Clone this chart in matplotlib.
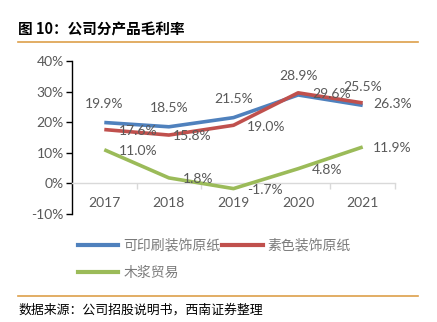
import matplotlib
matplotlib.use("Agg")
import matplotlib.pyplot as plt
from matplotlib.lines import Line2D
from matplotlib.ticker import FixedLocator, FuncFormatter

plt.rcParams['font.family'] = ['Lato', 'Noto Sans CJK SC', 'DejaVu Sans']

years = ["2017", "2018", "2019", "2020", "2021"]
series_names = ["可印刷装饰原纸", "素色装饰原纸", "木浆贸易"]
printable = [19.9, 18.5, 21.5, 28.9, 25.5]
plain = [17.6, 15.8, 19.0, 29.6, 26.3]
pulp = [11.0, 1.8, -1.7, 4.8, 11.9]
yticks = [-10, 0, 10, 20, 30, 40]

title = "图 10：公司分产品毛利率"
source = "数据来源：公司招股说明书，西南证券整理"

colors = ["#4F81BD", "#C0504D", "#9BBB59"]
gray = "#595959"

W, H = 437, 322
fig = plt.figure(figsize=(W / 100, H / 100), dpi=100)

def fx(px):
    return px / W

def fy(py):
    return 1 - py / H

# axes: x from 72 to 395 px, y from 61 (40%) to 214 (-10%)
ax = fig.add_axes([fx(72), fy(214), fx(395) - fx(72), fy(61) - fy(214)])
x = list(range(len(years)))
ax.set_xlim(-0.5, len(years) - 0.5)
ax.set_ylim(-10, 40)

lw = 2.6
ax.plot(x, printable, color=colors[0], lw=lw, solid_capstyle='butt', zorder=3)
ax.plot(x, plain, color=colors[1], lw=lw, solid_capstyle='butt', zorder=4)
ax.plot(x, pulp, color=colors[2], lw=lw, solid_capstyle='butt', zorder=3)

fs = 10
for i, v in enumerate(printable):
    ax.annotate(f"{v:.1f}%", (i, v), xytext=(0, 13.5), textcoords='offset points',
                ha='center', va='center', fontsize=fs, color=gray, zorder=5)
red_dx = [10.5, 2.5, 9.5, 10, 7.5]
for i, v in enumerate(plain):
    ax.annotate(f"{v:.1f}%", (i, v), xytext=(red_dx[i], -1), textcoords='offset points',
                ha='left', va='center', fontsize=fs, color=gray, zorder=5)
green_dx = [10.5, 10, 9.5, 10, 7.5]
for i, v in enumerate(pulp):
    ax.annotate(f"{v:.1f}%", (i, v), xytext=(green_dx[i], -1), textcoords='offset points',
                ha='left', va='center', fontsize=fs, color=gray, zorder=5)

# spines
for s in ['top', 'right']:
    ax.spines[s].set_visible(False)
ax.spines['left'].set_color('black')
ax.spines['left'].set_linewidth(1.0)
ax.spines['bottom'].set_position(('data', 0))
ax.spines['bottom'].set_color('#D9D9D9')
ax.spines['bottom'].set_linewidth(1.0)

ax.yaxis.set_major_locator(FixedLocator(yticks))
ax.yaxis.set_major_formatter(FuncFormatter(lambda v, p: f"{int(v)}%"))
ax.tick_params(axis='y', direction='out', length=4, width=1.0, color='black',
               labelsize=fs, labelcolor=gray, pad=2)

ax.set_xticks(x)
ax.set_xticklabels(years)
ax.tick_params(axis='x', which='major', length=0, pad=10, labelsize=fs, labelcolor=gray)
ax.set_xticks([i - 0.5 for i in range(len(years) + 1)], minor=True)
ax.tick_params(axis='x', which='minor', direction='out', length=4, width=1.0, color='#D9D9D9')

# legend
handles = [Line2D([], [], color=colors[0], lw=3),
           Line2D([], [], color=colors[2], lw=3),
           Line2D([], [], color=colors[1], lw=3)]
labels = [series_names[0], series_names[2], series_names[1]]
leg = fig.legend(handles, labels, ncol=2, loc='upper left',
                 bbox_to_anchor=(fx(78), fy(238)), frameon=False,
                 fontsize=10, handlelength=2.9, handletextpad=0.35,
                 columnspacing=0.15, labelspacing=1.0, borderaxespad=0, borderpad=0)
for t in leg.get_texts():
    t.set_color("#7A7A7A")

# title and rules
fig.text(fx(18), fy(30), title, fontsize=10.5, fontweight='bold', color='black',
         ha='left', va='center', family=['Noto Sans CJK SC', 'DejaVu Sans'])
rule_color = "#DDA04A"
fig.add_artist(Line2D([fx(18), fx(418)], [fy(42), fy(42)], color=rule_color, lw=1.2))
fig.add_artist(Line2D([fx(18), fx(418)], [fy(296), fy(296)], color=rule_color, lw=1.2))
fig.text(fx(18), fy(310), source, fontsize=9.3, color='black', style='italic',
         ha='left', va='center', family=['Noto Sans CJK SC', 'DejaVu Sans'])

fig.savefig("out.png", dpi=100)
